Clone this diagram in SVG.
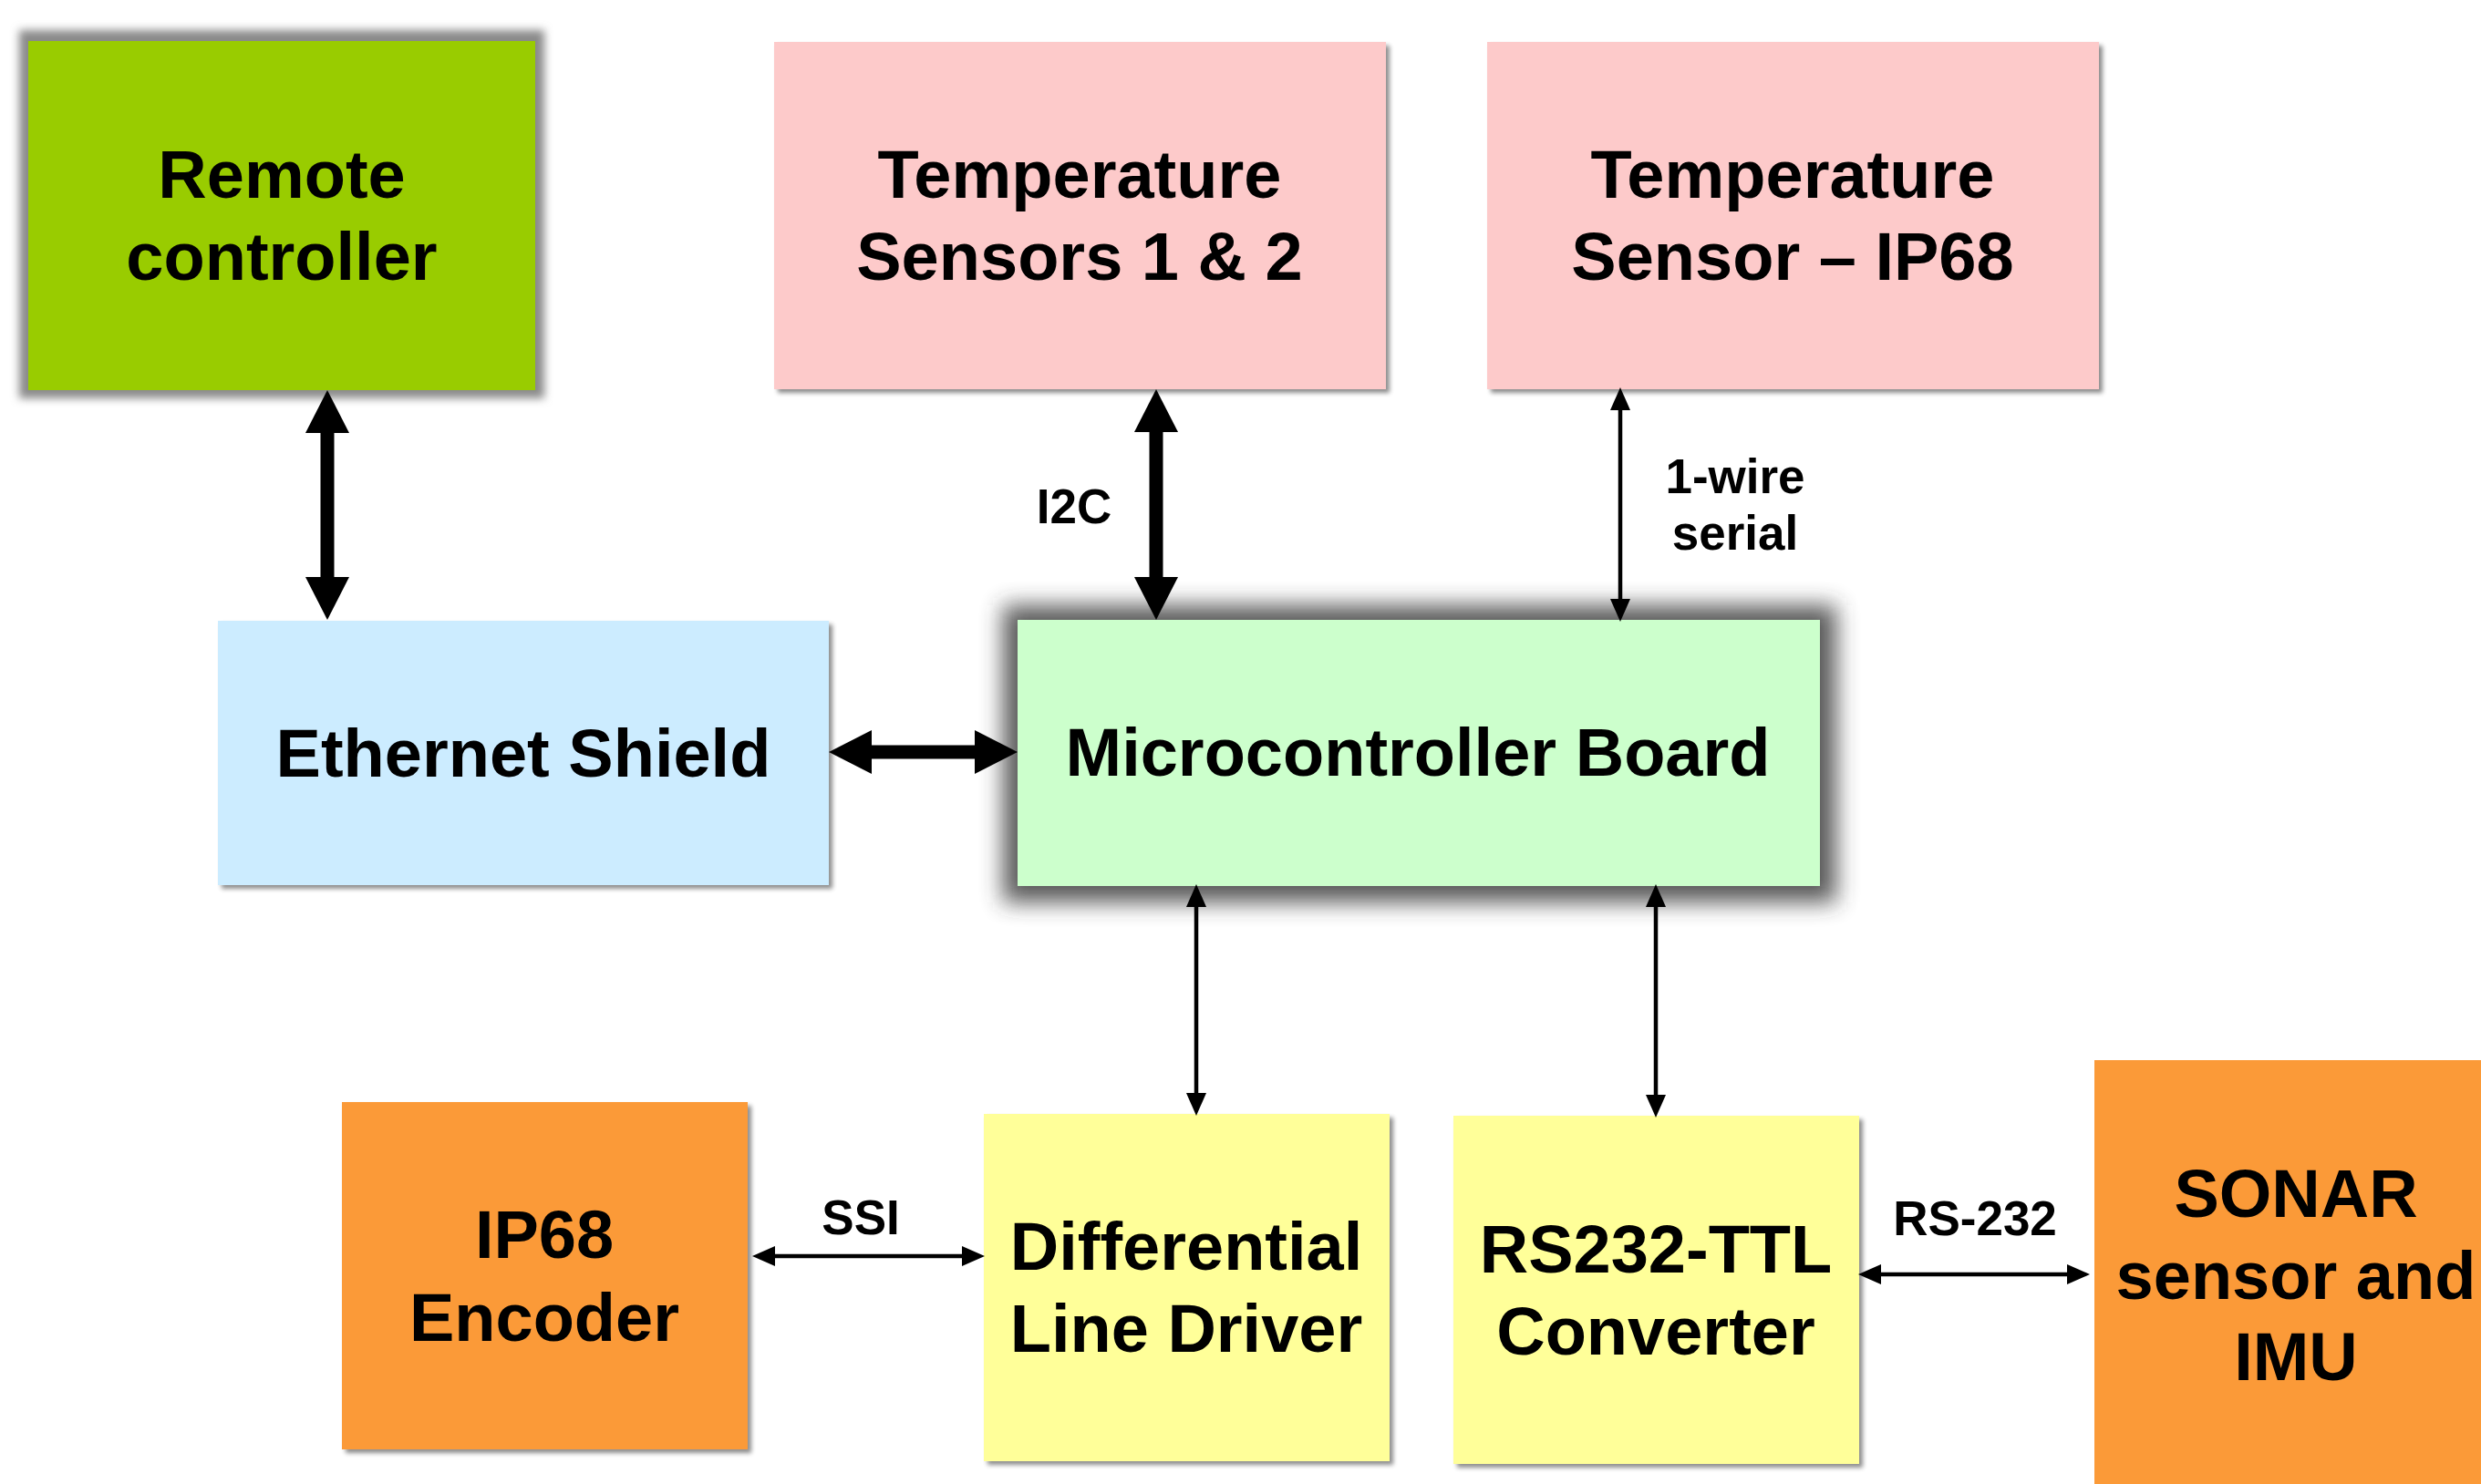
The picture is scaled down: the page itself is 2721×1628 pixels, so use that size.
<svg xmlns="http://www.w3.org/2000/svg" width="2721" height="1628" viewBox="0 0 2721 1628">
<style>
.t{font-family:"Liberation Sans",Arial,sans-serif;font-weight:bold;font-size:74px;fill:#000;text-anchor:middle}
.l{font-family:"Liberation Sans",Arial,sans-serif;font-weight:bold;font-size:53px;fill:#000;text-anchor:middle}
.thick{stroke:#000;stroke-width:15;fill:none}
.thin{stroke:#000;stroke-width:4.5;fill:none}
</style>
<defs>
<filter id="ds" x="-10%" y="-10%" width="130%" height="130%">
<feGaussianBlur in="SourceAlpha" stdDeviation="2.5"/>
<feOffset dx="4" dy="4" result="o"/>
<feComponentTransfer><feFuncA type="linear" slope="0.45"/></feComponentTransfer>
<feMerge><feMergeNode/><feMergeNode in="SourceGraphic"/></feMerge>
</filter>
<filter id="glow" x="-20%" y="-30%" width="140%" height="160%">
<feGaussianBlur stdDeviation="12"/>
</filter>
<filter id="glow2" x="-20%" y="-20%" width="140%" height="140%">
<feGaussianBlur stdDeviation="5"/>
</filter>
<marker id="hb" viewBox="0 -24 47 48" refX="0" refY="0" markerWidth="47" markerHeight="48" markerUnits="userSpaceOnUse" orient="auto-start-reverse">
<path d="M0,-24 L47,0 L0,24 z" fill="#000"/>
</marker>
<marker id="hs" viewBox="0 -12 25 24" refX="0" refY="0" markerWidth="25" markerHeight="24" markerUnits="userSpaceOnUse" orient="auto-start-reverse">
<path d="M0,-11 L25,0 L0,11 z" fill="#000"/>
</marker>
</defs>
<rect width="2721" height="1628" fill="#fff"/>

<g id="remote-controller">
<rect x="21" y="33" width="576" height="404" fill="#8a8a8a" filter="url(#glow2)"/>
<rect x="31" y="45" width="556" height="383" fill="#99CC00"/>
<text class="t" x="309" y="217">Remote</text>
<text class="t" x="309" y="307">controller</text>
</g>

<g id="temp-sensors-1-2" filter="url(#ds)">
<rect x="849" y="46" width="671" height="381" fill="#FDCACA"/>
<text class="t" x="1184" y="217">Temperature</text>
<text class="t" x="1184" y="307">Sensors 1 &amp; 2</text>
</g>

<g id="temp-sensor-ip68" filter="url(#ds)">
<rect x="1631" y="46" width="671" height="381" fill="#FDCACA"/>
<text class="t" x="1966" y="217">Temperature</text>
<text class="t" x="1966" y="307">Sensor – IP68</text>
</g>

<g id="ethernet-shield" filter="url(#ds)">
<rect x="239" y="681" width="670" height="290" fill="#CCECFF"/>
<text class="t" x="574" y="852">Ethernet Shield</text>
</g>

<g id="microcontroller-board">
<rect x="1100" y="664" width="914" height="326" fill="#333" opacity="0.8" filter="url(#glow)"/>
<rect x="1116" y="680" width="880" height="292" fill="#CCFFCC"/>
<text class="t" x="1555" y="851">Microcontroller Board</text>
</g>

<g id="ip68-encoder" filter="url(#ds)">
<rect x="375" y="1209" width="445" height="381" fill="#FB9A38"/>
<text class="t" x="597" y="1380">IP68</text>
<text class="t" x="597" y="1471">Encoder</text>
</g>

<g id="differential-line-driver" filter="url(#ds)">
<rect x="1079" y="1222" width="445" height="381" fill="#FFFF99"/>
<text class="t" x="1301" y="1393">Differential</text>
<text class="t" x="1301" y="1483">Line Driver</text>
</g>

<g id="rs232-ttl-converter" filter="url(#ds)">
<rect x="1594" y="1224" width="445" height="382" fill="#FFFF99"/>
<text class="t" x="1816" y="1396">RS232-TTL</text>
<text class="t" x="1816" y="1486">Converter</text>
</g>

<g id="sonar-imu">
<rect x="2297" y="1163" width="440" height="480" fill="#FB9A38"/>
<text class="t" x="2518" y="1335">SONAR</text>
<text class="t" x="2518" y="1425">sensor and</text>
<text class="t" x="2518" y="1514">IMU</text>
</g>

<g id="connectors">
<line class="thick" x1="359" y1="475" x2="359" y2="633" marker-start="url(#hb)" marker-end="url(#hb)"/>
<line class="thick" x1="1268" y1="474" x2="1268" y2="633" marker-start="url(#hb)" marker-end="url(#hb)"/>
<line class="thick" x1="956" y1="825" x2="1069" y2="825" marker-start="url(#hb)" marker-end="url(#hb)"/>
<line class="thin" x1="1777" y1="450" x2="1777" y2="657" marker-start="url(#hs)" marker-end="url(#hs)"/>
<line class="thin" x1="1312" y1="995" x2="1312" y2="1199" marker-start="url(#hs)" marker-end="url(#hs)"/>
<line class="thin" x1="1816" y1="995" x2="1816" y2="1201" marker-start="url(#hs)" marker-end="url(#hs)"/>
<line class="thin" x1="850" y1="1378" x2="1055" y2="1378" marker-start="url(#hs)" marker-end="url(#hs)"/>
<line class="thin" x1="2063" y1="1398" x2="2267" y2="1398" marker-start="url(#hs)" marker-end="url(#hs)"/>
<text class="l" x="1178" y="574">I2C</text>
<text class="l" x="1903" y="541">1-wire</text>
<text class="l" x="1903" y="603">serial</text>
<text class="l" x="944" y="1354">SSI</text>
<text class="l" x="2166" y="1355">RS-232</text>
</g>
</svg>
